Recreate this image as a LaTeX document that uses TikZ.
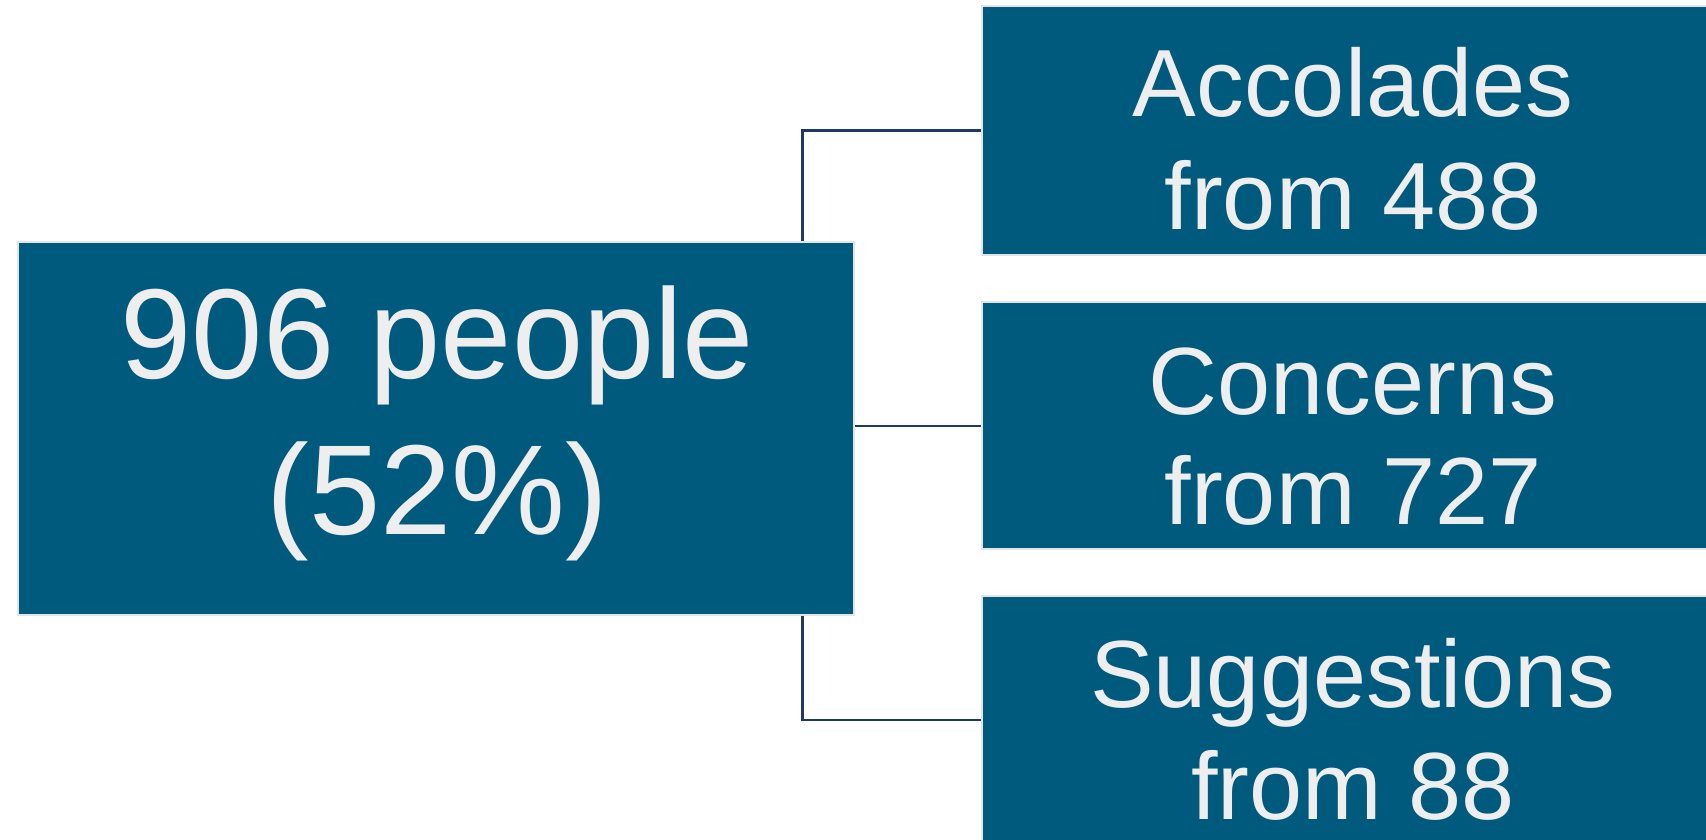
\documentclass[tikz,border=0pt]{standalone}
\usepackage{fontspec}
\setmainfont{Liberation Sans}
\definecolor{boxfill}{HTML}{005A7D}
\definecolor{boxedge}{HTML}{E4E4E4}
\definecolor{linkline}{HTML}{1F3864}
\definecolor{boxtext}{HTML}{EEEEEE}
\tikzset{
  box/.style={draw=boxedge, line width=2pt, fill=boxfill, inner sep=0pt},
  bigtxt/.style={text=boxtext, inner sep=0pt, anchor=base, font=\fontsize{128}{154}\selectfont},
  smalltxt/.style={text=boxtext, inner sep=0pt, anchor=base, font=\fontsize{95.5}{113}\selectfont},
  link/.style={draw=linkline, line width=2.5pt}
}
\begin{document}
\begin{tikzpicture}[x=1pt,y=-1pt]
\useasboundingbox (0,0) rectangle (1706,839);
% root box
\node[box, minimum width=835.7pt, minimum height=373.3pt] (root) at (435.85,428.35) {};
\node[bigtxt] (rootA) at (437.5,378.6) {906 people};
\node[bigtxt] (rootB) at (437.5,534.2) {(52\%)};
% branch boxes
\node[box, minimum width=742pt, minimum height=249.3pt] (acc) at (1353,130.65) {};
\node[box, minimum width=742pt, minimum height=247pt] (con) at (1353,425.8) {};
\node[box, minimum width=742pt, minimum height=247pt] (sug) at (1353,719.8) {};
\node[smalltxt] (accA) at (1353,116.4) {Accolades};
\node[smalltxt] (accB) at (1353,229.6) {from 488};
\node[smalltxt] (conA) at (1353,414.5) {Concerns};
\node[smalltxt] (conB) at (1353,524.4) {from 727};
\node[smalltxt] (sugA) at (1353,707) {Suggestions};
\node[smalltxt] (sugB) at (1353,819) {from 88};
% connectors
\coordinate (jx) at (802.3,0);
\draw[link] (root.north -| jx) |- (acc.west);
\draw[link] (root.east |- con.west) -- (con.west);
\draw[link] (root.south -| jx) |- (sug.west);
\end{tikzpicture}
\end{document}
